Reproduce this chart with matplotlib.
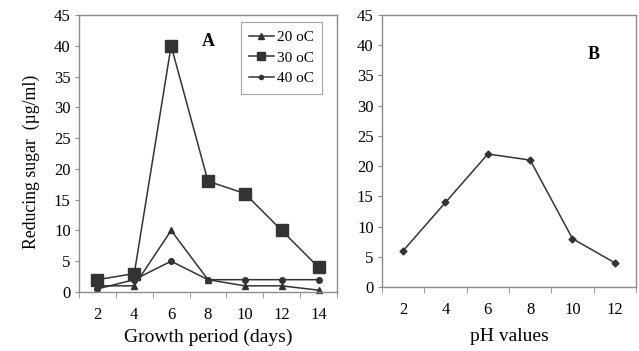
import numpy as np
import matplotlib
matplotlib.use('Agg')
import matplotlib.pyplot as plt
from matplotlib import rc

rc('font', family='Liberation Serif', size=11.5)

days = [2, 4, 6, 8, 10, 12, 14]
temp_20 = [1, 1, 10, 2, 1, 1, 0.3]
temp_30 = [2, 3, 40, 18, 16, 10, 4]
temp_40 = [0.5, 2, 5, 2, 2, 2, 2]

ph = [2, 4, 6, 8, 10, 12]
ph_sugar = [6, 14, 22, 21, 8, 4]

line_col = '#333333'
spine_col = '#8c8c8c'

fig = plt.figure(figsize=(6.39, 3.51), dpi=100)
axA = fig.add_axes([0.1236, 0.1681, 0.4038, 0.789])
axB = fig.add_axes([0.5978, 0.1823, 0.3975, 0.775])


def style_axis(ax, labels):
    n = len(labels)
    pos = np.arange(1, n + 1)
    ax.set_xlim(0.5, n + 0.5)
    ax.set_ylim(0, 45)
    ax.set_yticks(range(0, 46, 5))
    ax.set_xticks(pos)
    ax.set_xticklabels([str(v) for v in labels])
    ax.set_xticks(np.arange(0.5, n + 1), minor=True)
    ax.tick_params(axis='x', which='major', length=0, pad=11, labelsize=12)
    ax.tick_params(axis='x', which='minor', length=4, color=spine_col, direction='out')
    ax.tick_params(axis='y', length=3, color=spine_col, labelsize=12, pad=3)
    for s in ax.spines.values():
        s.set_color(spine_col)
        s.set_linewidth(1.0)
    return pos


posA = style_axis(axA, days)
axA.plot(posA, temp_20, color=line_col, lw=1.1, marker='^', ms=5, label='20 oC')
axA.plot(posA, temp_30, color=line_col, lw=1.1, marker='s', ms=8.5, label='30 oC')
axA.plot(posA, temp_40, color=line_col, lw=1.1, marker='o', ms=4, label='40 oC')
for l in axA.get_lines():
    l.set_clip_on(False)
leg = axA.legend(loc='upper right', bbox_to_anchor=(0.942, 0.975), borderaxespad=0,
                 fontsize=11, frameon=True, fancybox=False, handlelength=1.6,
                 borderpad=0.55, labelspacing=0.45, handletextpad=0.2,
                 markerscale=0.75)
leg.get_frame().set_edgecolor(spine_col)
leg.get_frame().set_linewidth(0.8)
axA.text(0.5, 0.905, 'A', transform=axA.transAxes, fontsize=13, fontweight='bold',
         ha='center', va='center')
axA.set_xlabel('Growth period (days)', fontsize=14, labelpad=4)
axA.set_ylabel('Reducing sugar  (µg/ml)', fontsize=12.8)
axA.yaxis.set_label_coords(-0.15, 0.469)

posB = style_axis(axB, ph)
axB.plot(posB, ph_sugar, color=line_col, lw=1.1, marker='D', ms=3.5, clip_on=False)
axB.text(0.835, 0.855, 'B', transform=axB.transAxes, fontsize=13, fontweight='bold',
         ha='center', va='center')
axB.set_xlabel('pH values', fontsize=14, labelpad=7)

fig.savefig('out.png', dpi=100)
